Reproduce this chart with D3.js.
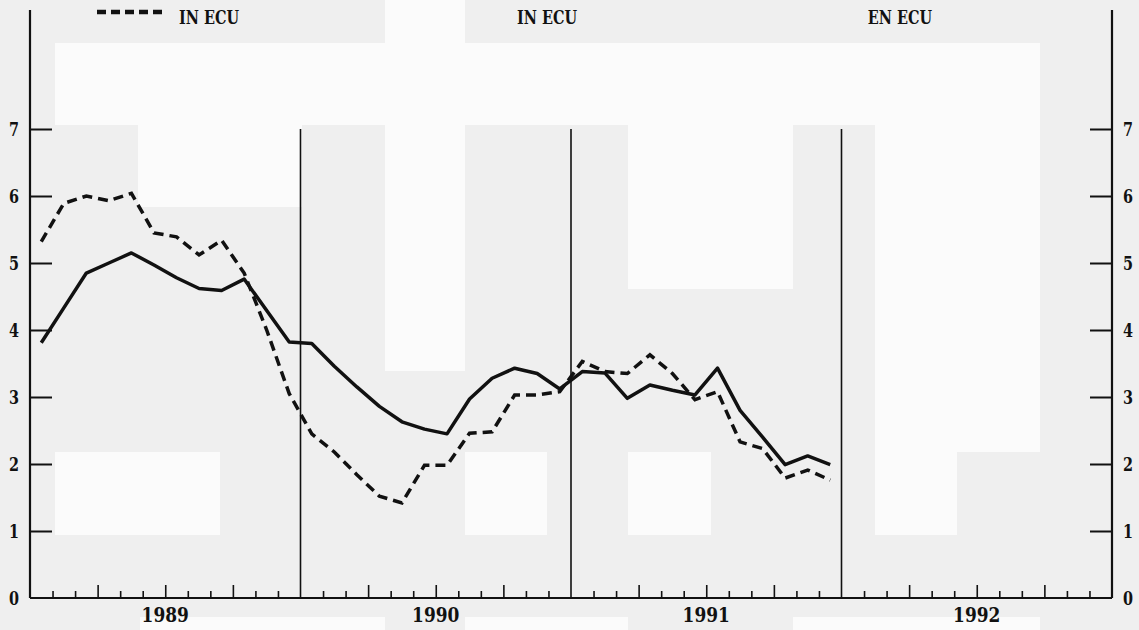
<!DOCTYPE html>
<html>
<head>
<meta charset="utf-8">
<script src="https://cdn.jsdelivr.net/npm/d3@7"></script>
<style>
  html, body { margin: 0; padding: 0; background: #efefef; }
  svg { display: block; }
  text { font-family: "DejaVu Serif", "Liberation Serif", serif; font-weight: bold; fill: #111; }
</style>
</head>
<body>
<svg id="chart" width="1139" height="630"></svg>
<script>
// ---- data ----
const years = ["1989", "1990", "1991", "1992"];
const monthsPerYear = 12;
const headerLabels = ["IN ECU", "IN ECU", "EN ECU"];
const yTicks = [0, 1, 2, 3, 4, 5, 6, 7];
// monthly values, Jan 1989 .. Dec 1991
const solidSeries = [
  3.81, 4.33, 4.85, 5.00, 5.15, 4.97, 4.78, 4.62, 4.59, 4.76, 4.29, 3.82,
  3.80, 3.46, 3.15, 2.86, 2.63, 2.52, 2.45, 2.97, 3.28, 3.43, 3.35, 3.12,
  3.38, 3.36, 2.98, 3.18, 3.10, 3.03, 3.43, 2.80, 2.40, 1.99, 2.12, 1.99
];
const dashedSeries = [
  5.32, 5.89, 6.00, 5.93, 6.04, 5.45, 5.39, 5.12, 5.34, 4.85, 4.00, 3.05,
  2.45, 2.18, 1.84, 1.52, 1.42, 1.98, 1.98, 2.46, 2.48, 3.03, 3.03, 3.08,
  3.53, 3.38, 3.35, 3.63, 3.35, 2.96, 3.08, 2.33, 2.23, 1.79, 1.91, 1.76
];

// ---- layout ----
const plotL = 30, plotR = 1112, plotB = 598, plotT = 10;
const headerX = [209, 547, 900];
const svg = d3.select("#chart");

// scan-like light blocks of the reference background
const whiteBlocks = [
  [55, 43, 1040, 125], [385, 0, 465, 43], [385, 125, 465, 371],
  [138, 125, 302, 207], [628, 125, 793, 289], [875, 125, 1040, 452],
  [875, 452, 957, 535],
  [55, 452, 220, 535], [465, 452, 547, 535], [628, 452, 711, 535],
  [140, 617, 385, 630], [465, 617, 628, 630], [793, 617, 1040, 630]
];
svg.append("g").selectAll("rect").data(whiteBlocks).join("rect")
  .attr("x", d => d[0]).attr("y", d => d[1])
  .attr("width", d => d[2] - d[0]).attr("height", d => d[3] - d[1])
  .attr("fill", "#fbfbfb");

const nMonths = years.length * monthsPerYear;
const x = d3.scaleLinear().domain([0, nMonths]).range([plotL, plotR]);
const y = d3.scaleLinear().domain([0, 7]).range([plotB, 129]);

// condensed heavy text helper
function label(g, tx, ty, str, size, sx) {
  return g.append("text")
    .attr("transform", `translate(${tx},${ty}) scale(${sx},1)`)
    .attr("text-anchor", "middle").attr("font-size", size).text(str);
}

// year separators
svg.append("g").selectAll("line").data(d3.range(1, years.length)).join("line")
  .attr("x1", d => x(d * monthsPerYear)).attr("x2", d => x(d * monthsPerYear))
  .attr("y1", y(7)).attr("y2", plotB)
  .attr("stroke", "#111").attr("stroke-width", 1.6);

// left & right axes
const yLeft = d3.axisRight(y).tickValues(yTicks).tickSize(22).tickFormat("");
const yRight = d3.axisLeft(y).tickValues(yTicks).tickSize(22).tickFormat("");
const gl = svg.append("g").attr("transform", `translate(${plotL},0)`).call(yLeft);
const gr = svg.append("g").attr("transform", `translate(${plotR},0)`).call(yRight);
[gl, gr].forEach(g => {
  g.select(".domain").remove();
  g.selectAll(".tick line").attr("stroke", "#111").attr("stroke-width", 2);
  g.selectAll(".tick").filter(d => d === 0).remove();
});
svg.append("line").attr("x1", plotL).attr("x2", plotL).attr("y1", plotT).attr("y2", plotB)
  .attr("stroke", "#111").attr("stroke-width", 2.2);
svg.append("line").attr("x1", plotR).attr("x2", plotR).attr("y1", plotT).attr("y2", plotB)
  .attr("stroke", "#111").attr("stroke-width", 2.2);

// y tick labels
const gYL = svg.append("g");
yTicks.forEach(t => label(gYL, 14, y(t) + 6.5, t, 18, 0.8));
const gYR = svg.append("g");
yTicks.forEach(t => label(gYR, 1128, y(t) + 6.5, t, 18, 0.8));

// bottom axis with monthly ticks (quarters taller)
const monthTicks = d3.range(1, nMonths).filter(m => m % monthsPerYear !== 0);
const xAxis = d3.axisTop(x).tickValues(monthTicks).tickSize(7).tickFormat("");
const gx = svg.append("g").attr("transform", `translate(0,${plotB})`).call(xAxis);
gx.select(".domain").remove();
gx.selectAll(".tick line").attr("stroke", "#111").attr("stroke-width", 1.6)
  .attr("y2", d => (d % 3 === 0 ? -13 : -7));
svg.append("line").attr("x1", plotL).attr("x2", plotR).attr("y1", plotB).attr("y2", plotB)
  .attr("stroke", "#111").attr("stroke-width", 2.2);

// year labels
const gYear = svg.append("g");
years.forEach((yr, i) => label(gYear, x(i * monthsPerYear + monthsPerYear / 2), 622, yr, 20, 0.85));

// header labels
const gHead = svg.append("g");
headerLabels.forEach((h, i) => label(gHead, headerX[i], 24, h, 19, 0.76));

// legend dashed sample
svg.append("line").attr("x1", 97).attr("x2", 165).attr("y1", 12).attr("y2", 12)
  .attr("stroke", "#111").attr("stroke-width", 4.5).attr("stroke-dasharray", "9,5");

// series lines
const line = d3.line().x((d, i) => x(i + 0.5)).y(d => y(d)).curve(d3.curveLinear);
svg.append("path").datum(solidSeries).attr("d", line)
  .attr("fill", "none").attr("stroke", "#111").attr("stroke-width", 3.5)
  .attr("stroke-linejoin", "round");
svg.append("path").datum(dashedSeries).attr("d", line)
  .attr("fill", "none").attr("stroke", "#111").attr("stroke-width", 3.5)
  .attr("stroke-dasharray", "10,6");
</script>
</body>
</html>
